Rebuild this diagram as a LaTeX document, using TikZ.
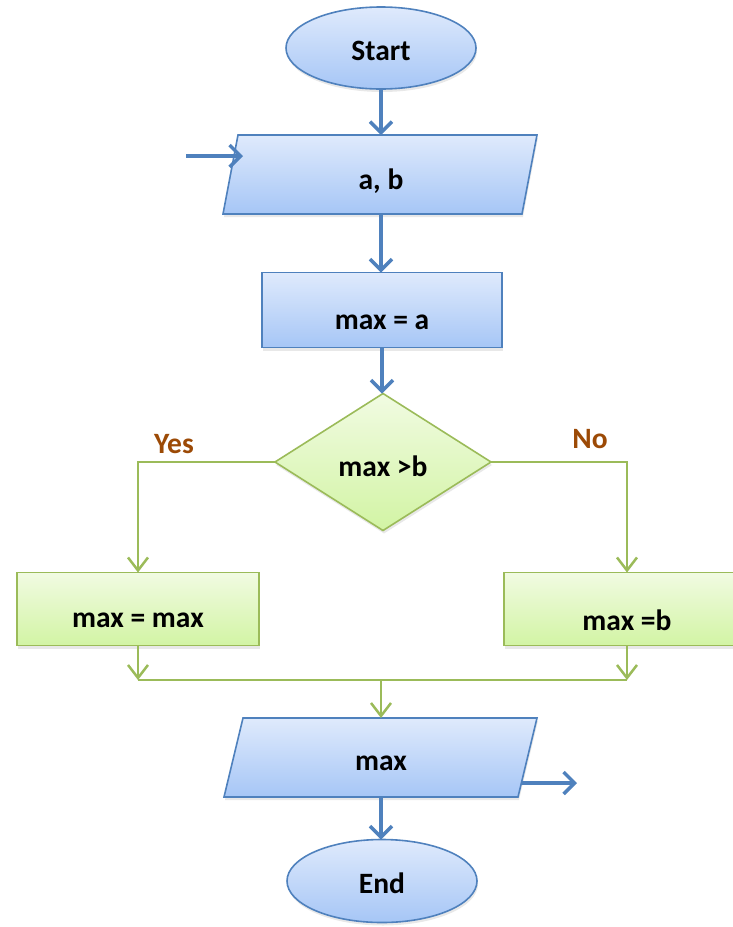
\documentclass[tikz,border=0pt]{standalone}
\usepackage{fontspec}
\setmainfont{Carlito}
\usetikzlibrary{shapes.geometric,arrows.meta,shadows}
\definecolor{bborder}{HTML}{4F81BD}
\definecolor{btop}{HTML}{DFEAFC}
\definecolor{bbot}{HTML}{A6C6F6}
\definecolor{gborder}{HTML}{9BBB59}
\definecolor{gtop}{HTML}{F1FBE2}
\definecolor{gbot}{HTML}{D2F4A4}
\definecolor{brownlbl}{HTML}{9C4A06}
\tikzset{
  shad/.style={drop shadow={shadow xshift=1pt,shadow yshift=-3pt,opacity=0.18}},
  bshape/.style={draw=bborder,line width=1.6pt,top color=btop,bottom color=bbot,shad,inner sep=0pt,outer sep=0pt},
  gshape/.style={draw=gborder,line width=1.6pt,top color=gtop,bottom color=gbot,shad,inner sep=0pt,outer sep=0pt},
  term/.style={bshape,ellipse,minimum width=190pt,minimum height=82pt},
  proc/.style={bshape,rectangle,minimum width=240pt,minimum height=75pt},
  gproc/.style={gshape,rectangle,minimum width=242pt,minimum height=73pt},
  decis/.style={gshape,diamond,minimum width=216pt,minimum height=137pt,inner sep=3pt},
  txt/.style={font=\fontsize{29.5}{34}\selectfont\bfseries,text=black,inner sep=0pt},
  ynlbl/.style={font=\fontsize{29.5}{34}\selectfont\bfseries,text=brownlbl,inner sep=0pt},
  barrow/.style={draw=bborder,line width=3.5pt,-{Straight Barb[length=11pt,width=22pt,line width=3.5pt]}},
  garrow/.style={draw=gborder,line width=2.5pt,-{Straight Barb[length=13pt,width=20pt,line width=2.5pt]}},
  gline/.style={draw=gborder,line width=2.5pt},
}
\begin{document}
\begin{tikzpicture}[x=1pt,y=-1pt]
\useasboundingbox (0,0) rectangle (733,927);
\clip (0,0) rectangle (733,927);

% shapes
\node[term] (start) at (381,48) {};
\node[txt] (startT) at ([yshift=-3pt]start.center) {Start};

% input parallelogram a, b
\path[bshape] (223,214) -- (238,135) -- (537,135) -- (522,214) -- cycle;
\coordinate (abN) at (381,135);
\coordinate (abS) at (381,214);
\node[txt] (abT) at (381,181) {a, b};

\node[proc] (r1) at (382,310) {};
\node[txt] (r1T) at ([yshift=-12pt]r1.center) {max = a};

\node[decis] (dia) at (383,462) {};
\node[txt] (diaT) at ([yshift=-4pt]dia.center) {max >b};

\node[gproc] (yesbox) at (138,609) {};
\node[txt] (yesT) at ([yshift=-11pt]yesbox.center) {max = max};

\node[gproc,minimum width=246pt] (nobox) at (627,609) {};
\node[txt] (noT) at ([yshift=-11pt]nobox.center) {max =b};

% output parallelogram max
\path[bshape] (224,797) -- (243,718) -- (537,718) -- (518,797) -- cycle;
\coordinate (outN) at (381,718);
\coordinate (outS) at (381,797);
\node[txt] (outT) at (381,763) {max};

\node[term,minimum height=83pt] (end) at (382,881) {};
\node[txt] (endT) at ([yshift=-2pt]end.center) {End};

\node[ynlbl] (yes) at (174,444) {Yes};
\node[ynlbl] (no) at (590,439) {No};

% connectors
\coordinate (inL) at (186,156);
\coordinate (inR) at (243,156);
\coordinate (outL) at (521,783);
\coordinate (outR) at (577,783);
\coordinate (mL) at (138,680);
\coordinate (mR) at (627,680);
\coordinate (mC) at (381,680);

\draw[barrow] (start.south) -- (abN);
\draw[barrow] (inL) -- (inR);
\draw[barrow] (abS) -- (abS |- r1.north);
\draw[barrow] (r1.south) -- (r1.south |- dia.north);

\draw[garrow] (dia.west) -| (yesbox.north);
\draw[garrow] (dia.east) -| (nobox.north);

\draw[gline] (mL) -- (mR);
\draw[garrow] (yesbox.south) -- (mL);
\draw[garrow] (nobox.south) -- (mR);
\draw[garrow] (mC) -- (outN);

\draw[barrow] (outL) -- (outR);
\draw[barrow] (outS) -- (outS |- end.north);
\end{tikzpicture}
\end{document}
